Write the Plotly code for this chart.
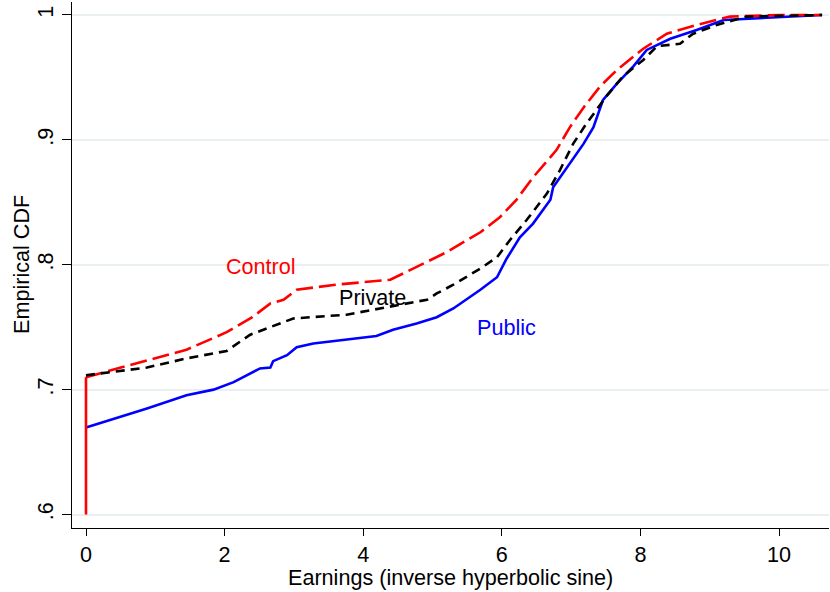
import plotly.graph_objects as go

# Control (red, long dash)
control_x = [0.0, 0.0, 0.88, 1.45, 2.03, 2.40, 2.66, 2.85, 3.04, 3.60, 4.39, 4.86, 5.20, 5.69, 5.97, 6.21,
             6.45, 6.79, 6.98, 7.18, 7.42, 7.66, 8.04, 8.38, 8.81, 9.29, 10.01, 10.62]
control_y = [0.600, 0.710, 0.723, 0.732, 0.746, 0.758, 0.769, 0.772, 0.780, 0.784, 0.788, 0.801, 0.810, 0.826, 0.838, 0.852,
             0.870, 0.892, 0.910, 0.926, 0.943, 0.956, 0.973, 0.985, 0.992, 0.9987, 1.0, 1.0]

# Private (black, short dash)
private_x = [0.0, 0.88, 1.45, 2.03, 2.37, 2.66, 2.99, 3.76, 4.63, 4.92, 5.06, 5.30, 5.69, 5.93, 6.12, 6.36,
             6.65, 6.84, 7.03, 7.22, 7.51, 7.75, 8.04, 8.24, 8.57, 8.76, 9.10, 9.53, 10.62]
private_y = [0.7115, 0.7177, 0.725, 0.731, 0.744, 0.750, 0.757, 0.760, 0.769, 0.772, 0.777, 0.784, 0.797, 0.806, 0.820, 0.836,
             0.857, 0.876, 0.897, 0.913, 0.935, 0.951, 0.964, 0.975, 0.977, 0.985, 0.992, 0.9987, 1.0]

# Public (blue, solid)
public_x = [0.0, 0.88, 1.45, 1.84, 2.13, 2.51, 2.66, 2.70, 2.90, 3.04, 3.28, 4.19, 4.43, 4.77, 5.06, 5.30, 5.69,
            5.93, 6.07, 6.26, 6.45, 6.70, 6.74, 6.98, 7.18, 7.32, 7.46, 7.66, 7.90, 8.09, 8.43, 8.81, 9.20, 10.62]
public_y = [0.6696, 0.6849, 0.6955, 0.700, 0.706, 0.717, 0.7177, 0.7228, 0.7276, 0.734, 0.737, 0.743, 0.748, 0.753, 0.758, 0.765, 0.780,
            0.790, 0.805, 0.822, 0.833, 0.852, 0.862, 0.881, 0.897, 0.910, 0.932, 0.945, 0.959, 0.972, 0.981, 0.988, 0.996, 1.0]

y_ticks = [0.6, 0.7, 0.8, 0.9, 1.0]
y_ticktext = [".6", ".7", ".8", ".9", "1"]
x_ticks = [0, 2, 4, 6, 8, 10]

labels = ["Control", "Private", "Public"]
label_x = [2.53, 4.13, 6.06]
label_y = [0.799, 0.774, 0.750]
label_colors = ["#ff0000", "#000000", "#0000ff"]

x_title = "Earnings (inverse hyperbolic sine)"
y_title = "Empirical CDF"

FONT = "Liberation Sans, Arial, sans-serif"
FS = 21.6

fig = go.Figure()
fig.add_trace(go.Scatter(x=public_x, y=public_y, mode="lines", name="Public",
                         line=dict(color="#0000ff", width=2.6)))
fig.add_trace(go.Scatter(x=control_x[1:], y=control_y[1:], mode="lines", name="Control",
                         line=dict(color="#ff0000", width=2.6, dash="17px,6px")))
fig.add_trace(go.Scatter(x=private_x, y=private_y, mode="lines", name="Private",
                         line=dict(color="#000000", width=2.6, dash="9px,6px")))
fig.add_trace(go.Scatter(x=control_x[:2], y=control_y[:2], mode="lines", name="Control",
                         line=dict(color="#ff0000", width=2.6), showlegend=False))

for t, lx, ly, c in zip(labels, label_x, label_y, label_colors):
    fig.add_annotation(x=lx, y=ly, xref="x", yref="y", text=t, showarrow=False,
                       font=dict(family=FONT, size=FS, color=c))

# axis titles
fig.add_annotation(x=0.5, y=0, xref="paper", yref="paper", text=x_title, showarrow=False,
                   xanchor="center", yanchor="middle", yshift=-49,
                   font=dict(family=FONT, size=FS, color="black"))
fig.add_annotation(x=0, y=0.5, xref="paper", yref="paper", text=y_title, showarrow=False,
                   xanchor="center", yanchor="middle", xshift=-51, textangle=-90,
                   font=dict(family=FONT, size=FS, color="black"))

fig.update_layout(
    width=830, height=592,
    margin=dict(l=72, r=1, t=2, b=64),
    paper_bgcolor="white", plot_bgcolor="white",
    showlegend=False,
    font=dict(family=FONT, size=FS, color="black"),
)
fig.update_xaxes(
    range=[-0.202, 10.72], tickvals=x_ticks, ticks="outside", ticklen=7, tickwidth=1.3,
    tickcolor="black", showline=True, linecolor="black", linewidth=1.3,
    showgrid=False, zeroline=False, mirror=False, automargin=False,
    tickfont=dict(size=FS),
)
fig.update_yaxes(
    range=[0.5892, 1.0104], tickvals=y_ticks, ticktext=y_ticktext, tickangle=-90,
    ticks="outside", ticklen=9, tickwidth=1.3, tickcolor="black",
    showline=True, linecolor="black", linewidth=1.3, automargin=False,
    showgrid=True, gridcolor="#eaf0f2", gridwidth=1.5, zeroline=False,
    tickfont=dict(size=FS),
)

fig.write_html("out.html", config={"displayModeBar": False},
               post_script="document.body.style.margin='0';document.body.style.overflow='hidden';")
